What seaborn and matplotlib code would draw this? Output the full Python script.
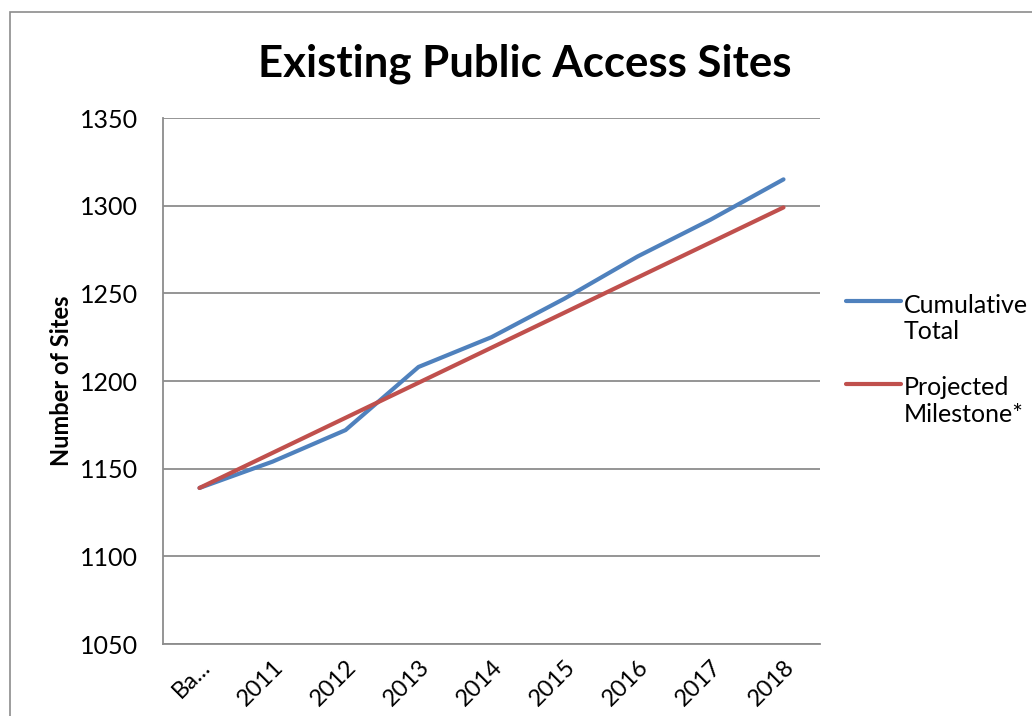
import matplotlib
matplotlib.use("Agg")
import matplotlib.pyplot as plt
import seaborn as sns
import pandas as pd
from matplotlib.patches import Rectangle
from matplotlib.legend_handler import HandlerLine2D

categories = ["Ba...", "2011", "2012", "2013", "2014", "2015", "2016", "2017", "2018"]
cumulative_total = [1139, 1154, 1172, 1208, 1225, 1247, 1271, 1292, 1315]
projected_milestone = [1139, 1159, 1179, 1199, 1219, 1239, 1259, 1279, 1299]
series_names = ["Cumulative\nTotal", "Projected\nMilestone*"]
y_ticks = [1050, 1100, 1150, 1200, 1250, 1300, 1350]

sns.set_theme(style="white")
plt.rcParams['font.family'] = ['Lato', 'DejaVu Sans']
plt.rcParams['text.color'] = 'black'
plt.rcParams['axes.labelcolor'] = 'black'
plt.rcParams['xtick.color'] = 'black'
plt.rcParams['ytick.color'] = 'black'

df = pd.DataFrame({
    "x": list(range(len(categories))) * 2,
    "value": cumulative_total + projected_milestone,
    "series": [series_names[0]] * len(categories) + [series_names[1]] * len(categories),
})


class TopHandler(HandlerLine2D):
    def create_artists(self, legend, orig_handle, xdescent, ydescent,
                       width, height, fontsize, trans):
        arts = super().create_artists(legend, orig_handle, xdescent, ydescent,
                                      width, height, fontsize, trans)
        for a in arts:
            try:
                yd = a.get_ydata()
                a.set_ydata([v + fontsize * 0.72 for v in yd])
            except Exception:
                pass
        return arts


fig = plt.figure(figsize=(10.32, 7.16), dpi=100)
fig.patch.set_facecolor("white")
ax = fig.add_axes([163/1032, 1 - 644/716, (820-163)/1032, (644-118)/716])

sns.lineplot(data=df, x="x", y="value", hue="series",
             palette=["#4F81BD", "#C0504D"], linewidth=3, ax=ax,
             legend=True)

ax.set_xlim(-0.5, 8.5)
ax.set_ylim(1050, 1350)
ax.set_yticks(y_ticks)
ax.set_yticklabels([str(v) for v in y_ticks], fontsize=18, color="black")
ax.set_xticks(range(len(categories)))
ax.set_xticklabels(categories, fontsize=17, rotation=45, ha="right",
                   rotation_mode="anchor", color="black")
ax.tick_params(axis="both", length=0)
ax.tick_params(axis="y", pad=18)
ax.tick_params(axis="x", pad=9)
ax.yaxis.grid(True, color="#8C8C8C", linewidth=1.3)
ax.set_axisbelow(True)
for s in ["top", "right"]:
    ax.spines[s].set_visible(False)
for s in ["left", "bottom"]:
    ax.spines[s].set_color("#8C8C8C")
    ax.spines[s].set_linewidth(1.3)
ax.set_xlabel("")
ax.set_ylabel("Number of Sites", fontsize=17, fontweight="bold", color="black")
ax.yaxis.set_label_coords(-0.137, 0.5)

fig.text(525/1032, 1 - 64/716, "Existing Public Access Sites", fontsize=31.5,
         fontweight="bold", ha="center", va="center", color="black")

handles, labels = ax.get_legend_handles_labels()
leg = ax.legend(handles, labels, loc="upper left", bbox_to_anchor=(1.025, 0.685),
                frameon=False, fontsize=18, handlelength=2.2, handletextpad=0.1,
                labelspacing=1.3, borderaxespad=0, labelcolor="black",
                handler_map={h: TopHandler() for h in handles})
for line in leg.get_lines():
    line.set_linewidth(3)

fig.patches.append(Rectangle((10/1032, -0.1), 1.2, 1 - 12/716 + 0.1,
                             transform=fig.transFigure, fill=False,
                             edgecolor="#8C8C8C", linewidth=1.2))

fig.savefig("out.png", dpi=100)
